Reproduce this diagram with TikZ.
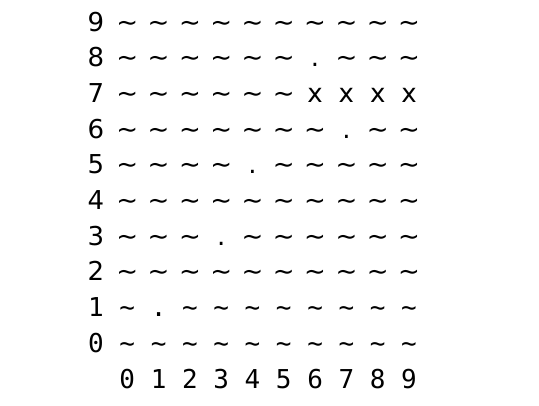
\documentclass[tikz,border=0pt]{standalone}
\usepackage{fontspec}
\newfontfamily\upfont{DejaVu Sans}
\newfontfamily\lowfont{DejaVu Sans Mono}
\newcommand\mytil{\textasciitilde}
\begin{document}
\begin{tikzpicture}[x=0.75pt,y=-0.75pt,
  cell/.style={anchor=base,inner sep=0pt,font=\upfont\fontsize{19.5}{20}\selectfont},
  mcell/.style={anchor=base,inner sep=0pt,font=\lowfont\fontsize{19.5}{20}\selectfont}]
\useasboundingbox (0,0) rectangle (539,405);
\foreach \r/\row in {
  9/{\mytil,\mytil,\mytil,\mytil,\mytil,\mytil,\mytil,\mytil,\mytil,\mytil},
  8/{\mytil,\mytil,\mytil,\mytil,\mytil,\mytil,.,\mytil,\mytil,\mytil},
  7/{\mytil,\mytil,\mytil,\mytil,\mytil,\mytil,x,x,x,x},
  6/{\mytil,\mytil,\mytil,\mytil,\mytil,\mytil,\mytil,.,\mytil,\mytil},
  5/{\mytil,\mytil,\mytil,\mytil,.,\mytil,\mytil,\mytil,\mytil,\mytil},
  4/{\mytil,\mytil,\mytil,\mytil,\mytil,\mytil,\mytil,\mytil,\mytil,\mytil},
  3/{\mytil,\mytil,\mytil,.,\mytil,\mytil,\mytil,\mytil,\mytil,\mytil},
  2/{\mytil,\mytil,\mytil,\mytil,\mytil,\mytil,\mytil,\mytil,\mytil,\mytil}}{
  \node[cell] (lab-\r) at (96,{31+(9-\r)*35.7}) {\r};
  \foreach \s [count=\i from 0] in \row {
    \node[cell] (n-\r-\i) at ({96+31.3*(\i+1)},{31+(9-\r)*35.7}) {\s};
  }
}
\foreach \r/\row in {
  1/{\mytil,.,\mytil,\mytil,\mytil,\mytil,\mytil,\mytil,\mytil,\mytil},
  0/{\mytil,\mytil,\mytil,\mytil,\mytil,\mytil,\mytil,\mytil,\mytil,\mytil}}{
  \node[mcell] (lab-\r) at (96,{31+(9-\r)*35.7}) {\r};
  \foreach \s [count=\i from 0] in \row {
    \node[mcell] (n-\r-\i) at ({96+31.3*(\i+1)},{31+(9-\r)*35.7}) {\s};
  }
}
\foreach \i in {0,...,9}{
  \node[mcell] (ax-\i) at ({96+31.3*(\i+1)},{31+10*35.7}) {\i};
}
\end{tikzpicture}
\end{document}
